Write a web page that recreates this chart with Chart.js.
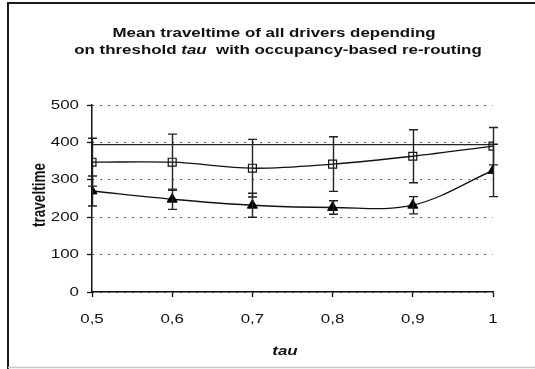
<!DOCTYPE html>
<html>
<head>
<meta charset="utf-8">
<title>Mean traveltime vs tau</title>
<script src="https://cdn.jsdelivr.net/npm/chart.js@4.4.1/dist/chart.umd.min.js"></script>
<style>
  html, body { margin: 0; padding: 0; background: #fff; }
  #wrap { position: relative; width: 535px; height: 369px; }
</style>
</head>
<body>
<div id="wrap"><canvas id="c" width="535" height="369"></canvas></div>
<script>
// threshold values on the x axis
const tau = [0.5, 0.6, 0.7, 0.8, 0.9, 1.0];
const tauTickLabels = ['0,5', '0,6', '0,7', '0,8', '0,9', '1'];

// mean traveltime with occupancy-based re-routing (open squares) and its spread
const occupancyMean = [347, 347, 331, 342, 363, 390];
const occupancyErr  = [64, 75, 77, 73, 71, 50];

// second series (filled triangles) and its spread
const triangleMean = [270, 248, 232, 226, 232, 325];
const triangleErr  = [40, 27, 32, 18, 23, 70];

// flat reference level drawn as a plain line
const referenceLevel = [394, 394, 394, 394, 394, 394];

const yTicks = [0, 100, 200, 300, 400, 500];

const titleLine1 = 'Mean traveltime of all drivers depending';
const titleLine2 = [
  { text: 'on threshold ', italic: false },
  { text: 'tau', italic: true },
  { text: '  with occupancy-based re-routing', italic: false }
];
const xTitle = 'tau';
const yTitle = 'traveltime';

const FONT = '"Liberation Sans", Arial, sans-serif';
const TEXT_STRETCH = 1.3;   // the figure's lettering is a widened face

const pts = (ys) => tau.map((x, i) => ({ x, y: ys[i] }));

// widen every text run horizontally about its own anchor point
const wideText = {
  id: 'wideText',
  beforeInit(chart) {
    const ctx = chart.ctx;
    const orig = ctx.fillText.bind(ctx);
    ctx.fillText = function (t, x, y, mw) {
      const m = ctx.getTransform();
      const p = m.transformPoint(new DOMPoint(x, y));
      const s = new DOMMatrix().translate(p.x, p.y).scale(TEXT_STRETCH, 1)
        .translate(-p.x, -p.y).multiply(m);
      ctx.setTransform(s);
      if (mw === undefined) orig(t, x, y); else orig(t, x, y, mw);
      ctx.setTransform(m);
    };
  }
};

// white page with the figure frame
const frame = {
  id: 'frame',
  beforeDraw(chart) {
    const ctx = chart.ctx;
    ctx.save();
    ctx.fillStyle = '#fff';
    ctx.fillRect(0, 0, chart.width, chart.height);
    ctx.strokeStyle = '#1a1a1a';
    ctx.lineWidth = 2;
    ctx.beginPath();
    ctx.moveTo(8, 369);
    ctx.lineTo(8, 3);
    ctx.lineTo(535, 3);
    ctx.stroke();
    ctx.strokeStyle = '#c8c8c8';
    ctx.lineWidth = 1.5;
    ctx.beginPath();
    ctx.moveTo(8, 367.5);
    ctx.lineTo(535, 367.5);
    ctx.stroke();
    ctx.restore();
  }
};

// vertical error bars with end caps
const errorBars = {
  id: 'errorBars',
  afterDatasetsDraw(chart) {
    const ctx = chart.ctx;
    const xs = chart.scales.x, ys = chart.scales.y;
    const groups = [[occupancyMean, occupancyErr], [triangleMean, triangleErr]];
    ctx.save();
    ctx.strokeStyle = '#222';
    ctx.lineWidth = 1.4;
    groups.forEach(([mean, err]) => {
      tau.forEach((t, i) => {
        const px = Math.round(xs.getPixelForValue(t)) + 0.5;
        const top = ys.getPixelForValue(mean[i] + err[i]);
        const bot = ys.getPixelForValue(mean[i] - err[i]);
        ctx.beginPath();
        ctx.moveTo(px, top); ctx.lineTo(px, bot);
        ctx.moveTo(px - 4.5, top); ctx.lineTo(px + 4.5, top);
        ctx.moveTo(px - 4.5, bot); ctx.lineTo(px + 4.5, bot);
        ctx.stroke();
      });
    });
    ctx.restore();
  }
};

// chart title and axis titles
const titles = {
  id: 'titles',
  afterDraw(chart) {
    const ctx = chart.ctx;
    ctx.save();
    ctx.fillStyle = '#111';
    ctx.textBaseline = 'alphabetic';

    ctx.font = 'bold 13px ' + FONT;
    ctx.textAlign = 'center';
    ctx.fillText(titleLine1, 274, 37);

    ctx.textAlign = 'left';
    let total = 0;
    titleLine2.forEach(seg => {
      ctx.font = (seg.italic ? 'italic ' : '') + 'bold 13px ' + FONT;
      seg.w = ctx.measureText(seg.text).width * TEXT_STRETCH;
      total += seg.w;
    });
    let x = 278 - total / 2;
    titleLine2.forEach(seg => {
      ctx.font = (seg.italic ? 'italic ' : '') + 'bold 13px ' + FONT;
      ctx.fillText(seg.text, x, 54);
      x += seg.w;
    });

    ctx.font = 'italic bold 13px ' + FONT;
    ctx.textAlign = 'center';
    ctx.fillText(xTitle, 285, 355);

    ctx.font = 'bold 13.5px ' + FONT;
    ctx.translate(45, 195);
    ctx.rotate(-Math.PI / 2);
    ctx.textBaseline = 'alphabetic';
    ctx.fillText(yTitle, 0, 0);
    ctx.restore();
  }
};

new Chart(document.getElementById('c'), {
  type: 'line',
  data: {
    datasets: [
      {
        label: 'occupancy-based re-routing',
        data: pts(occupancyMean),
        borderColor: '#111',
        borderWidth: 1.3,
        tension: 0.35,
        pointStyle: 'rect',
        pointRadius: 5.6,
        pointBorderWidth: 1.2,
        pointBorderColor: '#111',
        pointBackgroundColor: 'rgba(0,0,0,0)'
      },
      {
        label: 'triangles',
        data: pts(triangleMean),
        borderColor: '#111',
        borderWidth: 1.3,
        tension: 0.35,
        pointStyle: 'triangle',
        pointRadius: 5.8,
        pointBorderWidth: 1,
        pointBorderColor: '#000',
        pointBackgroundColor: '#000'
      },
      {
        label: 'reference level',
        data: pts(referenceLevel),
        borderColor: '#222',
        borderWidth: 1.3,
        tension: 0,
        pointRadius: 0
      }
    ]
  },
  options: {
    responsive: false,
    animation: false,
    events: [],
    layout: { padding: { left: 0, right: 42, top: 105, bottom: 0 } },
    plugins: { legend: { display: false }, tooltip: { enabled: false }, title: { display: false } },
    scales: {
      x: {
        type: 'linear',
        min: 0.5, max: 1.0,
        afterFit(s) { s.height = 77; },
        afterBuildTicks(s) { s.ticks = tau.map(v => ({ value: v })); },
        ticks: {
          autoSkip: false,
          maxRotation: 0,
          padding: 15,
          color: '#111',
          font: { family: FONT, size: 13 },
          callback: (v, i) => tauTickLabels[i]
        },
        grid: { drawOnChartArea: false, drawTicks: true, tickLength: 5, tickColor: '#111', tickWidth: 1.3 },
        border: { display: true, color: '#111', width: 1.5 }
      },
      y: {
        min: 0, max: 500,
        afterFit(s) { s.width = 92; },
        afterBuildTicks(s) { s.ticks = yTicks.map(v => ({ value: v })); },
        ticks: {
          padding: 8,
          color: '#111',
          font: { family: FONT, size: 13 },
          callback: (v) => String(v)
        },
        grid: {
          color: '#333',
          lineWidth: 1,
          tickBorderDash: [],
          tickLength: 5,
          tickColor: '#111',
          tickWidth: 1.3
        },
        // in Chart.js v4 the dash pattern of the grid lines lives under border
        border: { display: true, color: '#111', width: 1.5, dash: [1.5, 6.5] }
      }
    }
  },
  plugins: [wideText, frame, errorBars, titles]
});
</script>
</body>
</html>
